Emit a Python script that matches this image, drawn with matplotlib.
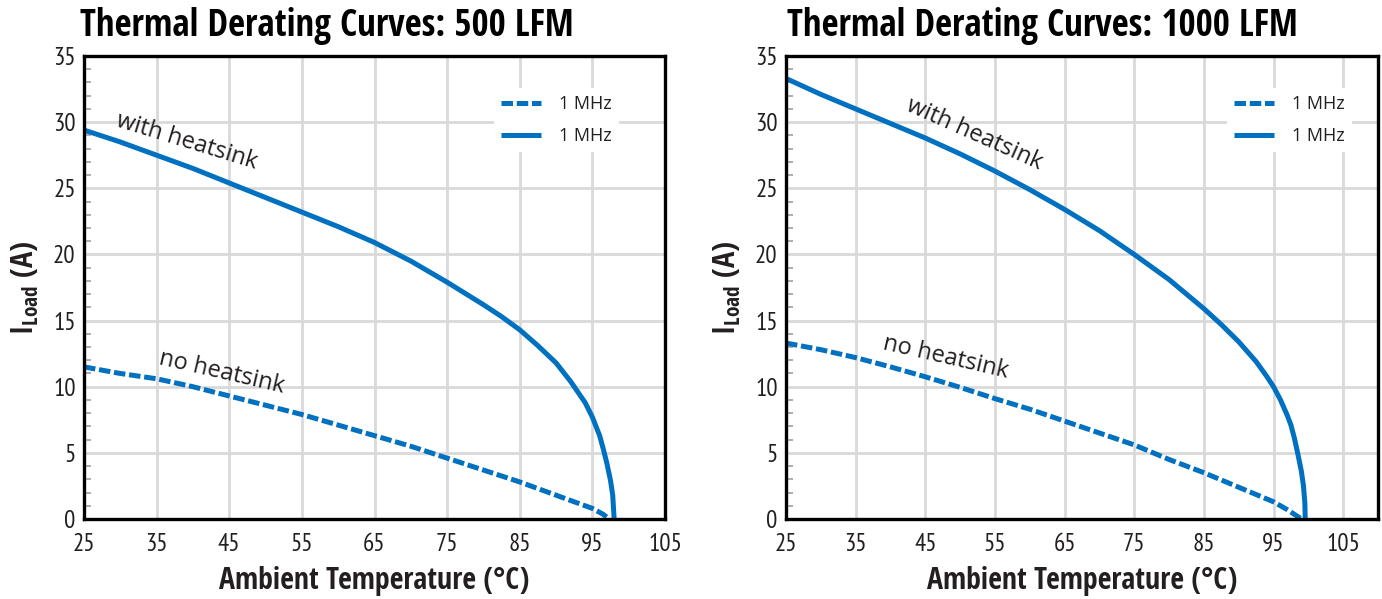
import matplotlib
matplotlib.use('Agg')
import matplotlib.pyplot as plt
from matplotlib.ticker import MultipleLocator

BLUE = '#0070c0'
INK = '#231f20'
GRID = '#d9d9d9'

# 500 LFM
t500_hs = [25, 30, 35, 40, 45, 50, 55, 60, 65, 70, 75, 80, 82.5, 85, 87.5, 90, 92, 94, 95, 96, 96.5, 97, 97.5, 97.8, 98.0]
i500_hs = [29.4, 28.5, 27.5, 26.5, 25.4, 24.3, 23.2, 22.1, 20.9, 19.5, 17.9, 16.2, 15.3, 14.3, 13.1, 11.8, 10.4, 8.8, 7.7, 6.3, 5.3, 4.2, 2.9, 1.8, 0.0]
t500_nohs = [25, 30, 35, 40, 45, 50, 55, 60, 65, 70, 75, 80, 85, 88, 90, 92.5, 95, 96.5, 97.3]
i500_nohs = [11.5, 11.0, 10.6, 10.0, 9.3, 8.6, 7.9, 7.1, 6.3, 5.5, 4.6, 3.7, 2.8, 2.2, 1.8, 1.3, 0.8, 0.35, 0.0]

# 1000 LFM
t1000_hs = [25, 30, 35, 40, 45, 50, 55, 60, 65, 70, 75, 80, 82.5, 85, 87.5, 90, 92.5, 94, 95, 96, 97, 97.5, 98, 98.5, 99, 99.3, 99.5, 99.55]
i1000_hs = [33.3, 32.1, 31.0, 29.9, 28.8, 27.6, 26.3, 24.9, 23.4, 21.8, 20.0, 18.1, 17.0, 15.9, 14.7, 13.4, 11.9, 10.8, 10.0, 9.0, 7.8, 7.1, 6.1, 4.9, 3.6, 2.5, 1.2, 0.0]
t1000_nohs = [25, 30, 35, 40, 45, 50, 55, 60, 65, 70, 75, 80, 85, 90, 95, 97, 99.0]
i1000_nohs = [13.3, 12.8, 12.2, 11.5, 10.75, 9.95, 9.1, 8.3, 7.4, 6.5, 5.6, 4.5, 3.5, 2.4, 1.3, 0.7, 0.0]

x_ticks = [25, 35, 45, 55, 65, 75, 85, 95, 105]
y_ticks = [0, 5, 10, 15, 20, 25, 30, 35]
legend_labels = ['1 MHz', '1 MHz']

BOLD = ['Open Sans Condensed', 'DejaVu Sans']
NARROW = ['PT Sans Narrow', 'DejaVu Sans']
HUMAN = ['Open Sans', 'DejaVu Sans']

plt.rcParams['font.family'] = NARROW
plt.rcParams['mathtext.fontset'] = 'custom'
plt.rcParams['mathtext.rm'] = 'Open Sans Condensed:bold'
plt.rcParams['mathtext.bf'] = 'Open Sans Condensed:bold'

fig = plt.figure(figsize=(13.82, 5.99), dpi=100)

panels = [
    dict(rect=[84 / 1382, 80 / 599, 581 / 1382, 463 / 599], xlim=(25, 105),
         title='Thermal Derating Curves: 500 LFM', tx=80,
         hs=(t500_hs, i500_hs), nohs=(t500_nohs, i500_nohs),
         lab_hs=(39.2, 28.5, -17), lab_nohs=(44.0, 11.1, -13), leg_x=0.69),
    dict(rect=[786 / 1382, 80 / 599, 592 / 1382, 463 / 599], xlim=(25, 110),
         title='Thermal Derating Curves: 1000 LFM', tx=787,
         hs=(t1000_hs, i1000_hs), nohs=(t1000_nohs, i1000_nohs),
         lab_hs=(52.0, 29.1, -24), lab_nohs=(47.9, 12.2, -13), leg_x=0.73),
]

for p in panels:
    ax = fig.add_axes(p['rect'])
    ax.set_xlim(*p['xlim'])
    ax.set_ylim(0, 35)
    ax.set_xticks(x_ticks)
    ax.set_yticks(y_ticks)
    ax.yaxis.set_minor_locator(MultipleLocator(1))
    ax.set_axisbelow(True)
    ax.grid(True, which='major', color=GRID, linewidth=2.0)
    for s in ax.spines.values():
        s.set_linewidth(2.4)
        s.set_color('black')
    ax.tick_params(which='major', length=0, labelsize=18, labelcolor=INK, pad=6)
    ax.tick_params(axis='y', which='minor', direction='in', length=5, width=1.2, color='#a0a0a0')
    ax.tick_params(axis='x', pad=10)
    for lab in ax.get_xticklabels() + ax.get_yticklabels():
        lab.set_family(NARROW)

    l1, = ax.plot(*p['nohs'], color=BLUE, linewidth=3.6, dashes=(2.3, 0.75), dash_capstyle='butt')
    l2, = ax.plot(*p['hs'], color=BLUE, linewidth=3.6, solid_capstyle='butt')

    leg = ax.legend([l1, l2], legend_labels, loc='upper left', bbox_to_anchor=(p['leg_x'], 0.95),
                    frameon=True, fancybox=False, facecolor='white', edgecolor='none', framealpha=1,
                    handlelength=2.2, handletextpad=1.0, labelspacing=0.75, borderpad=0.4,
                    prop=dict(family=HUMAN, size=13))
    for t in leg.get_texts():
        t.set_color(INK)

    x, y, r = p['lab_hs']
    ax.text(x, y, 'with heatsink', rotation=r, rotation_mode='anchor', ha='center', va='center',
            fontsize=17, family=HUMAN, color=INK)
    x, y, r = p['lab_nohs']
    ax.text(x, y, 'no heatsink', rotation=r, rotation_mode='anchor', ha='center', va='center',
            fontsize=17, family=HUMAN, color=INK)

    ax.set_xlabel('Ambient Temperature (°C)', fontsize=21.5, fontweight='bold', family=BOLD,
                  color=INK, labelpad=7)
    ax.set_ylabel(r'$\mathbf{I}_{\mathbf{Load}}$ (A)', fontsize=22, fontweight='bold', family=BOLD,
                  color=INK, labelpad=9)

    fig.text(p['tx'] / 1382, 1 - 26 / 599, p['title'], fontsize=26.5, fontweight='bold', family=BOLD,
             color='black', ha='left', va='center')

fig.savefig('out.png', dpi=100)
